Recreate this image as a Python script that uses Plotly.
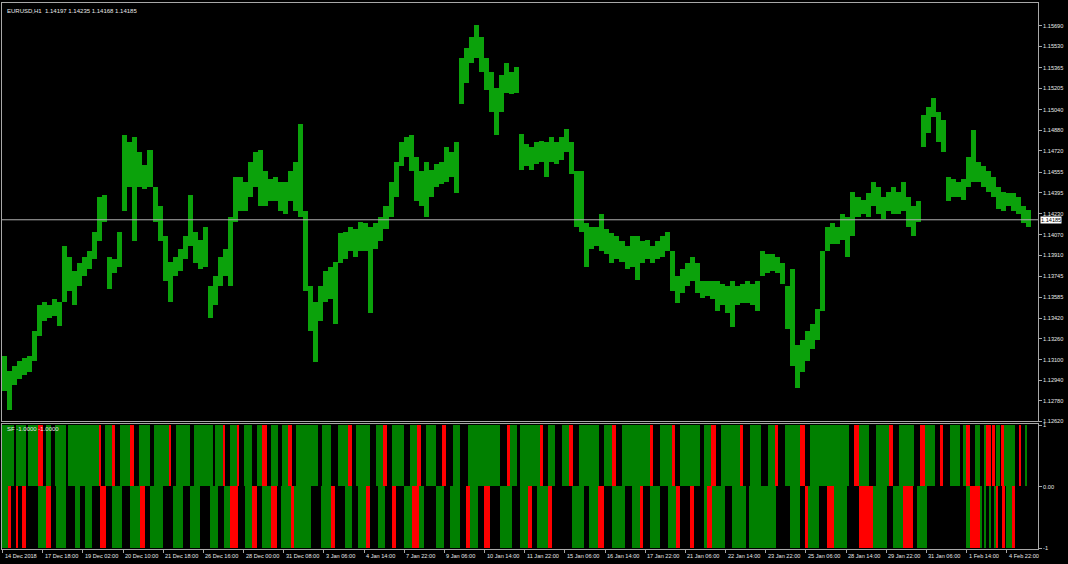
import plotly.graph_objects as go

# ---------------- data ----------------
symbol_title = "EURUSD,H1  1.14197 1.14235 1.14168 1.14185"
indicator_title = "SF -1.0000 -1.0000"
last_price = 1.14185

# price bars, aggregated in groups of 4 hourly bars (high / low)
highs = [
    1.1313, 1.1301, 1.1305, 1.1309, 1.1311, 1.1313, 1.1332, 1.1352, 1.1355, 1.1352,
    1.1357, 1.1355, 1.1398, 1.1390, 1.1379, 1.1385, 1.1390, 1.1394, 1.1409, 1.1436,
    1.1438, 1.1390, 1.1388, 1.1409, 1.1484, 1.1479, 1.1483, 1.1471, 1.1461, 1.1473,
    1.1444, 1.1429, 1.1406, 1.1386, 1.1390, 1.1396, 1.1406, 1.1438, 1.1409, 1.1403,
    1.1413, 1.1367, 1.1375, 1.1390, 1.1396, 1.1421, 1.1452, 1.1452, 1.1448, 1.1463,
    1.1471, 1.1473, 1.1456, 1.1450, 1.1452, 1.1448, 1.1448, 1.1456, 1.1463, 1.1493,
    1.1425, 1.1367, 1.1355, 1.1367, 1.1379, 1.1382, 1.1386, 1.1408, 1.1409, 1.1413,
    1.1411, 1.1417, 1.1416, 1.1413, 1.1416, 1.1421, 1.1429, 1.1448, 1.1463, 1.1479,
    1.1483, 1.1484, 1.1467, 1.1456, 1.1463, 1.1457, 1.1462, 1.1463, 1.1475, 1.1471,
    1.1479, 1.1544, 1.1552, 1.1560, 1.1570, 1.1560, 1.1544, 1.1533, 1.1521, 1.1531,
    1.1540, 1.1533, 1.1537, 1.1485, 1.1477, 1.1475, 1.1479, 1.1480, 1.1479, 1.1483,
    1.1479, 1.1483, 1.1489, 1.1479, 1.1456, 1.1456, 1.1416, 1.1413, 1.1413, 1.1423,
    1.1411, 1.1408, 1.1406, 1.1402, 1.1398, 1.1406, 1.1406, 1.1402, 1.1403, 1.1398,
    1.1402, 1.1406, 1.1409, 1.1394, 1.1375, 1.1380, 1.1385, 1.1390, 1.1385, 1.1371,
    1.1371, 1.1371, 1.1371, 1.1369, 1.1367, 1.1371, 1.1367, 1.1369, 1.1371, 1.1369,
    1.1371, 1.1394, 1.1392, 1.1392, 1.1390, 1.1385, 1.1367, 1.1380, 1.1321, 1.1325,
    1.1332, 1.1338, 1.1349, 1.1394, 1.1413, 1.1416, 1.1413, 1.1423, 1.1421, 1.1440,
    1.1436, 1.1434, 1.1439, 1.1448, 1.1444, 1.1436, 1.1440, 1.1444, 1.1440, 1.1448,
    1.1436, 1.1429, 1.1433, 1.1500, 1.1506, 1.1513, 1.1502, 1.1496, 1.1452, 1.1450,
    1.1448, 1.1450, 1.1467, 1.1488, 1.1463, 1.1460, 1.1456, 1.1452, 1.1444, 1.1440,
    1.1439, 1.1439, 1.1436, 1.1429, 1.1426,
]
lows = [
    1.1286, 1.1271, 1.1290, 1.1295, 1.1298, 1.1300, 1.1309, 1.1328, 1.1340, 1.1342,
    1.1344, 1.1336, 1.1355, 1.1363, 1.1352, 1.1367, 1.1375, 1.1380, 1.1388, 1.1402,
    1.1417, 1.1365, 1.1377, 1.1382, 1.1425, 1.1444, 1.1402, 1.1444, 1.1442, 1.1444,
    1.1417, 1.1402, 1.1371, 1.1355, 1.1375, 1.1379, 1.1388, 1.1398, 1.1385, 1.1380,
    1.1382, 1.1342, 1.1352, 1.1367, 1.1375, 1.1367, 1.1417, 1.1425, 1.1425, 1.1436,
    1.1444, 1.1429, 1.1429, 1.1433, 1.1433, 1.1425, 1.1423, 1.1433, 1.1425, 1.1421,
    1.1363, 1.1332, 1.1308, 1.1340, 1.1355, 1.1357, 1.1338, 1.1385, 1.1388, 1.1394,
    1.1390, 1.1394, 1.1394, 1.1346, 1.1396, 1.1402, 1.1411, 1.1421, 1.1436, 1.1460,
    1.1467, 1.1456, 1.1433, 1.1429, 1.1421, 1.1436, 1.1444, 1.1446, 1.1448, 1.1452,
    1.1439, 1.1508, 1.1525, 1.1540, 1.1544, 1.1533, 1.1519, 1.1502, 1.1484, 1.1502,
    1.1517, 1.1516, 1.1517, 1.1457, 1.1460, 1.1457, 1.1462, 1.1463, 1.1452, 1.1463,
    1.1462, 1.1465, 1.1471, 1.1454, 1.1413, 1.1409, 1.1382, 1.1396, 1.1398, 1.1394,
    1.1392, 1.1385, 1.1388, 1.1386, 1.1380, 1.1382, 1.1372, 1.1385, 1.1388, 1.1385,
    1.1388, 1.1390, 1.1394, 1.1363, 1.1354, 1.1362, 1.1367, 1.1371, 1.1362, 1.1358,
    1.1359, 1.1357, 1.1348, 1.1352, 1.1346, 1.1335, 1.1352, 1.1354, 1.1354, 1.1352,
    1.1348, 1.1375, 1.1377, 1.1379, 1.1377, 1.1369, 1.1334, 1.1305, 1.1288, 1.1300,
    1.1309, 1.1318, 1.1325, 1.1348, 1.1394, 1.1400, 1.1400, 1.1403, 1.1390, 1.1406,
    1.1421, 1.1423, 1.1421, 1.1429, 1.1423, 1.1419, 1.1425, 1.1423, 1.1423, 1.1425,
    1.1413, 1.1406, 1.1417, 1.1475, 1.1486, 1.1498, 1.1479, 1.1471, 1.1433, 1.1436,
    1.1436, 1.1434, 1.1444, 1.1448, 1.1448, 1.1444, 1.1440, 1.1436, 1.1427, 1.1425,
    1.1429, 1.1425, 1.1423, 1.1416, 1.1413,
]
bars_per_group = 4

# indicator histogram, run-length encoded: colour of each run and the bar index where it ends
top_colors = ["g", "k", "g", "k", "g", "r", "k", "g", "k", "g", "k", "g", "r", "k", "g", "r", "k", "g", "r", "k",
              "g", "k", "g", "r", "k", "g", "k", "g", "k", "g", "r", "k", "g", "r", "k", "g", "k", "g", "r", "k",
              "g", "k", "g", "r", "k", "g", "k", "g", "k", "g", "r", "k", "g", "k", "g", "r", "k", "g", "k", "g",
              "r", "k", "g", "k", "r", "k", "g", "k", "g", "k", "r", "g", "k", "g", "r", "k", "g", "k", "g", "r",
              "k", "g", "k", "g", "r", "k", "g", "r", "k", "g", "r", "k", "g", "k", "g", "r", "k", "g", "r", "k",
              "g", "k", "g", "r", "k", "g", "r", "k", "g", "k", "r", "g", "k", "g", "r", "k", "g", "k", "r", "g",
              "k", "r", "k", "g", "k", "g", "r", "k", "g", "k", "g", "r", "k", "r", "k", "g", "k", "r", "g", "k",
              "r", "k", "g"]
top_ends = [10, 11, 19, 21, 29, 33, 35, 39, 42, 51, 53, 77, 79, 82, 88, 90, 94, 102, 105, 109,
            118, 121, 133, 135, 139, 150, 153, 168, 170, 176, 178, 182, 187, 189, 193, 199, 203, 207, 211, 214,
            220, 223, 228, 231, 234, 252, 255, 262, 268, 276, 279, 282, 293, 298, 304, 307, 311, 320, 325, 331,
            334, 338, 346, 351, 354, 359, 365, 371, 397, 402, 405, 410, 413, 429, 431, 435, 441, 446, 452, 455,
            460, 476, 480, 486, 489, 494, 516, 519, 524, 534, 536, 540, 556, 559, 565, 569, 573, 588, 590, 596,
            605, 610, 616, 618, 624, 636, 640, 644, 675, 679, 683, 691, 696, 707, 710, 715, 727, 731, 735, 743,
            747, 750, 755, 763, 766, 768, 771, 775, 779, 782, 784, 788, 789, 791, 792, 795, 796, 798, 807, 810,
            812, 815, 817]
bot_colors = ["g", "r", "k", "r", "k", "r", "k", "g", "r", "k", "g", "k", "g", "k", "g", "k", "r", "k", "g", "k",
              "g", "r", "k", "g", "k", "g", "k", "g", "k", "g", "k", "g", "r", "k", "g", "r", "k", "g", "r", "k",
              "g", "r", "g", "k", "g", "r", "k", "g", "k", "g", "r", "k", "g", "k", "r", "k", "g", "r", "g", "k",
              "g", "k", "g", "k", "r", "g", "k", "r", "k", "g", "k", "g", "r", "k", "g", "r", "k", "g", "k", "g",
              "r", "k", "g", "k", "g", "r", "k", "g", "k", "g", "r", "k", "r", "k", "g", "r", "g", "k", "g", "k",
              "g", "k", "g", "k", "r", "g", "k", "r", "g", "k", "r", "g", "k", "g", "r", "k", "g", "k", "g", "r",
              "g", "k", "g", "k", "g", "k", "g", "r", "k", "r", "k", "g", "r", "k"]
bot_ends = [5, 7, 11, 13, 16, 19, 29, 35, 39, 43, 51, 58, 62, 66, 72, 78, 83, 88, 96, 102,
            110, 114, 118, 128, 136, 144, 150, 158, 166, 172, 177, 182, 188, 194, 199, 203, 207, 214, 219, 222,
            230, 233, 246, 254, 262, 265, 273, 279, 284, 290, 293, 300, 305, 311, 314, 320, 327, 332, 336, 346,
            352, 357, 365, 370, 373, 379, 384, 389, 397, 406, 413, 419, 422, 426, 435, 438, 454, 464, 468, 475,
            480, 486, 496, 502, 508, 511, 516, 524, 531, 537, 540, 548, 551, 559, 562, 566, 576, 582, 593, 595,
            617, 628, 636, 640, 642, 651, 657, 663, 673, 683, 694, 705, 710, 718, 726, 729, 737, 768, 771, 779,
            781, 783, 784, 787, 788, 790, 792, 793, 797, 799, 800, 805, 807, 815, 816, 817]

tick_bars = [i * 32 for i in range(26)]
tick_labels = ["14 Dec 2018", "17 Dec 18:00", "19 Dec 02:00", "20 Dec 10:00", "21 Dec 18:00",
               "26 Dec 16:00", "28 Dec 00:00", "31 Dec 08:00", "3 Jan 06:00", "4 Jan 14:00",
               "7 Jan 22:00", "9 Jan 06:00", "10 Jan 14:00", "11 Jan 22:00", "15 Jan 06:00",
               "16 Jan 14:00", "17 Jan 22:00", "21 Jan 06:00", "22 Jan 14:00", "23 Jan 22:00",
               "25 Jan 06:00", "28 Jan 14:00", "29 Jan 22:00", "31 Jan 06:00", "1 Feb 14:00",
               "4 Feb 22:00"]
price_ticks = [1.15690, 1.15530, 1.15365, 1.15205, 1.15040, 1.14880, 1.14720, 1.14555, 1.14395,
               1.14230, 1.14070, 1.13910, 1.13745, 1.13585, 1.13420, 1.13260, 1.13100, 1.12940,
               1.12780, 1.12620]
ind_ticks = [1, 0, -1]
ind_tick_text = ["1", "0.00", "-1"]

# ---------------- styling ----------------
BG = "#000000"
FG = "#e8e8e8"
FRAME = "#a8a8a8"
PRICE_GREEN = "#0ba20b"
COLMAP = {"g": "#008000", "r": "#ff0000"}
FONT = "Liberation Sans"

fig = go.Figure()

xs = [k * bars_per_group + (bars_per_group - 1) / 2 for k in range(len(highs))]
fig.add_trace(go.Bar(
    x=xs, y=[h - l for h, l in zip(highs, lows)], base=lows,
    width=bars_per_group, marker=dict(color=PRICE_GREEN, line=dict(width=0)),
    xaxis="x", yaxis="y", hoverinfo="skip", showlegend=False))


def runs_to_bars(colors, ends, sign):
    bx, bw, bc = [], [], []
    start = 0
    for c, e in zip(colors, ends):
        n = e - start
        if c in COLMAP and n > 0:
            bx.append(start + (n - 1) / 2)
            bw.append(n)
            bc.append(COLMAP[c])
        start = e
    return go.Bar(x=bx, y=[sign] * len(bx), width=bw, base=0,
                  marker=dict(color=bc, line=dict(width=0)),
                  xaxis="x2", yaxis="y2", hoverinfo="skip", showlegend=False)


fig.add_trace(runs_to_bars(top_colors, top_ends, 1))
fig.add_trace(runs_to_bars(bot_colors, bot_ends, -1))

x_range = [-0.4, 824.9]
axis_font = dict(family=FONT, size=5.6, color=FG)

fig.update_layout(
    width=1068, height=564,
    margin=dict(l=1, r=30, t=1, b=15),
    paper_bgcolor=BG, plot_bgcolor=BG,
    barmode="overlay", bargap=0,
    showlegend=False,
    xaxis=dict(domain=[0, 1], range=x_range, anchor="y", showticklabels=False,
               showgrid=False, zeroline=False, showline=True, mirror=True,
               linecolor=FRAME, linewidth=1, ticks=""),
    xaxis2=dict(domain=[0, 1], range=x_range, anchor="y2", matches="x",
                tickvals=tick_bars, showticklabels=False, ticks="outside",
                ticklen=3, tickcolor=FRAME, showgrid=False, zeroline=False,
                showline=True, mirror=True, linecolor=FRAME, linewidth=1),
    yaxis=dict(domain=[0.2336, 1], range=[1.12620, 1.15867], side="right",
               tickvals=price_ticks, ticktext=[f"{v:.5f}" for v in price_ticks],
               ticks="outside", ticklen=3, tickcolor=FRAME, tickfont=axis_font,
               showgrid=False, zeroline=False, showline=True, mirror=True,
               linecolor=FRAME, linewidth=1),
    yaxis2=dict(domain=[0, 0.2281], range=[-1.016, 1.016], side="right",
                tickvals=ind_ticks, ticktext=ind_tick_text,
                ticks="outside", ticklen=3, tickcolor=FRAME, tickfont=axis_font,
                showgrid=False, zeroline=False, showline=True, mirror=True,
                linecolor=FRAME, linewidth=1),
)

# current price line
fig.add_shape(type="line", xref="x", yref="y", x0=x_range[0], x1=x_range[1],
              y0=last_price, y1=last_price, line=dict(color="#b0b0b0", width=1))
fig.add_annotation(xref="paper", x=1, xanchor="left", xshift=2, yref="y", y=last_price,
                   text=f"{last_price:.5f}", showarrow=False, bgcolor="#ffffff",
                   font=dict(family=FONT, size=5.6, color="#000000"), borderpad=0)

# titles
fig.add_annotation(xref="paper", x=0, xanchor="left", xshift=3, yref="paper", y=0.986,
                   yanchor="middle", text=symbol_title, showarrow=False,
                   font=dict(family=FONT, size=6, color=FG))
fig.add_annotation(xref="paper", x=0, xanchor="left", xshift=3, yref="paper", y=0.219,
                   yanchor="middle", text=indicator_title, showarrow=False,
                   font=dict(family=FONT, size=6, color=FG))

# date labels (left-aligned at their tick marks)
for b, t in zip(tick_bars, tick_labels):
    fig.add_annotation(xref="x2", x=b, xanchor="left", xshift=0, yref="paper", y=-0.0128,
                       yanchor="middle", text=t, showarrow=False, font=axis_font)

fig.write_html("out.html",
               config={"displayModeBar": False},
               post_script="document.body.style.margin='0px';"
                           "document.body.style.background='#000000';")
